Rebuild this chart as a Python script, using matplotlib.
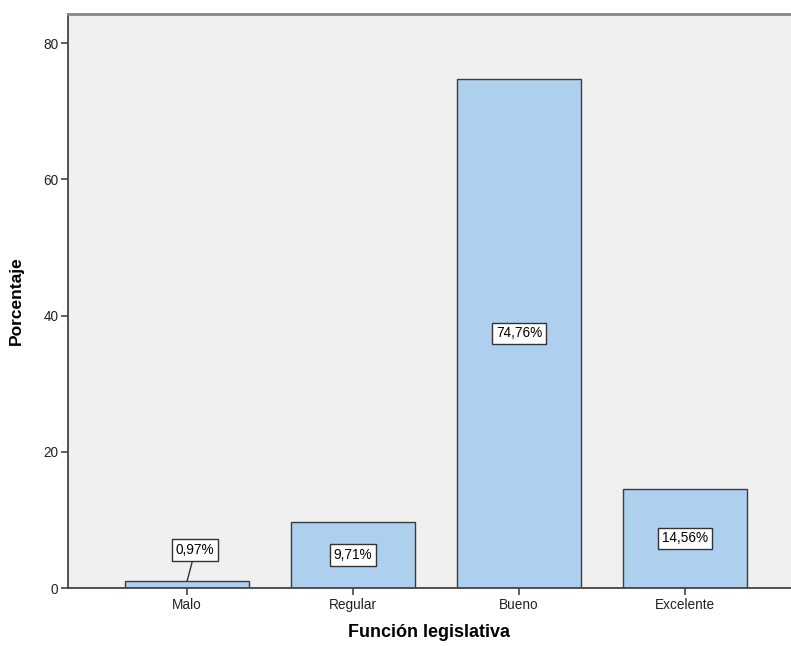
import matplotlib
matplotlib.use("Agg")
import matplotlib.pyplot as plt

plt.rcParams['font.family'] = ['Liberation Sans', 'DejaVu Sans']

categories = ["Malo", "Regular", "Bueno", "Excelente"]
percent = [0.97, 9.71, 74.76, 14.56]
labels = ["0,97%", "9,71%", "74,76%", "14,56%"]
y_ticks = [0, 20, 40, 60, 80]

fig = plt.figure(figsize=(7.91, 6.46), dpi=100)
ax = fig.add_axes([68 / 791, 58 / 646, 1 - 68 / 791, (588 - 14) / 646])
ax.set_facecolor("#F0F0F0")

x = list(range(len(categories)))
ax.bar(x, percent, width=0.747, color="#AED0EE", edgecolor="#3C3C3C", linewidth=1.0, zorder=2)

ax.set_xlim(-0.717, 3.639)
ax.set_ylim(0, 84.26)
ax.set_yticks(y_ticks)
ax.set_yticklabels([str(v) for v in y_ticks])
ax.set_xticks(x)
ax.set_xticklabels(categories)
ax.tick_params(axis="both", labelsize=9.8, colors="#222222", length=5, width=1.2, direction="out", pad=2)
ax.tick_params(axis="both", color="#444444")

for side in ["left", "bottom"]:
    ax.spines[side].set_color("#444444")
    ax.spines[side].set_linewidth(1.3)
ax.spines["top"].set_color("#888888")
ax.spines["top"].set_linewidth(2.0)
ax.spines["right"].set_visible(False)

box = dict(boxstyle="square,pad=0.28", facecolor="white", edgecolor="#333333", linewidth=1.0)
for i, (v, lab) in enumerate(zip(percent, labels)):
    if v < 3:
        ax.annotate(lab, xy=(i, v), xytext=(i + 0.05, v + 4.6),
                    ha="center", va="center", fontsize=9.8, bbox=box,
                    arrowprops=dict(arrowstyle="-", color="#333333", lw=1.0, shrinkA=0, shrinkB=0),
                    zorder=3)
    else:
        ax.text(i, v / 2, lab, ha="center", va="center", fontsize=9.8, bbox=box, zorder=3)

ax.set_ylabel("Porcentaje", fontsize=12.5, fontweight="bold", labelpad=14)
ax.set_xlabel("Función legislativa", fontsize=13, fontweight="bold", labelpad=9)

fig.savefig("out.png", dpi=100, facecolor="white")
